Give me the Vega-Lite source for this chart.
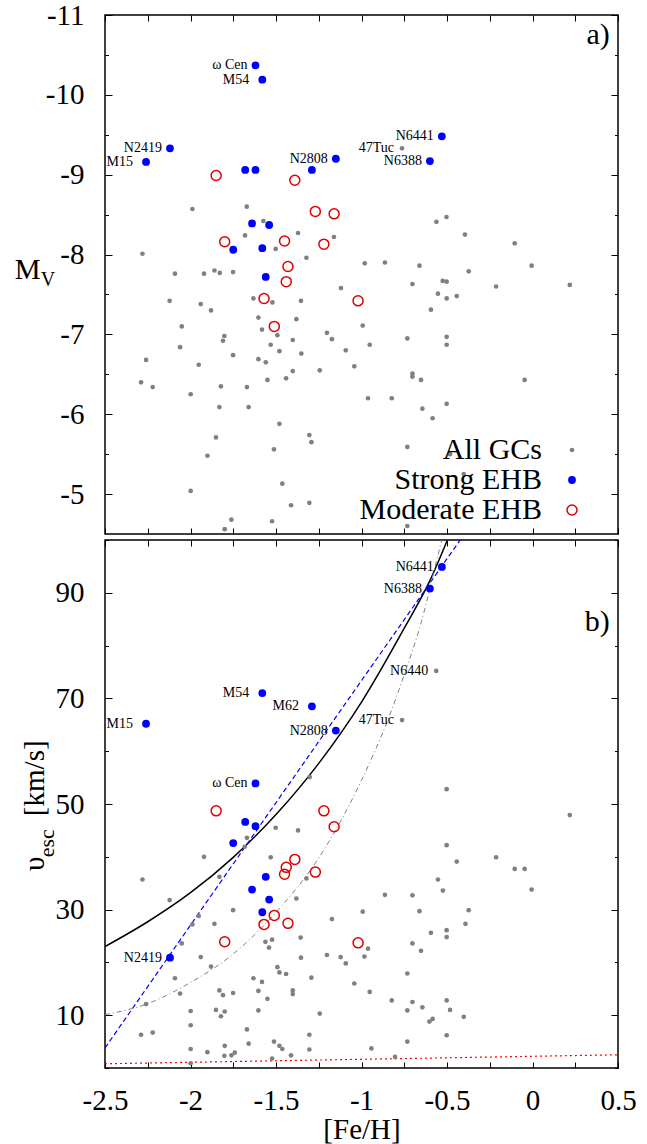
{
"$schema": "https://vega.github.io/schema/vega-lite/v6.json",
"background": "white",
"padding": {"left": 13, "top": 0, "right": 5, "bottom": 0},
"spacing": 6,
"bounds": "flush",
"resolve": {"legend": {"fill": "independent", "stroke": "independent", "size": "independent"}},
"config": {
  "font": "Liberation Serif",
  "view": {"stroke": "black", "strokeWidth": 1.5},
  "axis": {"domain": false, "grid": false, "tickColor": "black", "tickWidth": 1, "labelFont": "Liberation Serif", "labelFontSize": 29, "labelColor": "black", "titleFont": "Liberation Serif", "titleFontSize": 29, "titleFontWeight": "normal", "titleColor": "black"},
  "legend": {"labelFont": "Liberation Serif"},
  "text": {"font": "Liberation Serif", "color": "black"}
},
"datasets": {
  "a": [
    {"g": "All GCs", "feh": -1.989, "mv": -8.57}, {"g": "All GCs", "feh": -1.671, "mv": -8.60}, {"g": "All GCs", "feh": -1.574, "mv": -8.42}, {"g": "All GCs", "feh": -1.681, "mv": -8.24}, {"g": "All GCs", "feh": -1.371, "mv": -8.27}, {"g": "All GCs", "feh": -1.161, "mv": -8.22}, {"g": "All GCs", "feh": -1.502, "mv": -8.07}, {"g": "All GCs", "feh": -2.281, "mv": -8.01}, {"g": "All GCs", "feh": -1.322, "mv": -7.96}, {"g": "All GCs", "feh": -2.091, "mv": -7.76}, {"g": "All GCs", "feh": -1.921, "mv": -7.76}, {"g": "All GCs", "feh": -1.860, "mv": -7.80}, {"g": "All GCs", "feh": -1.829, "mv": -7.77}, {"g": "All GCs", "feh": -1.751, "mv": -7.78}, {"g": "All GCs", "feh": -1.120, "mv": -7.58}, {"g": "All GCs", "feh": -2.122, "mv": -7.42}, {"g": "All GCs", "feh": -1.940, "mv": -7.38}, {"g": "All GCs", "feh": -1.880, "mv": -7.30}, {"g": "All GCs", "feh": -1.632, "mv": -7.45}, {"g": "All GCs", "feh": -1.521, "mv": -7.40}, {"g": "All GCs", "feh": -1.354, "mv": -7.42}, {"g": "All GCs", "feh": -2.051, "mv": -7.10}, {"g": "All GCs", "feh": -1.603, "mv": -7.21}, {"g": "All GCs", "feh": -1.582, "mv": -7.06}, {"g": "All GCs", "feh": -1.381, "mv": -7.19}, {"g": "All GCs", "feh": -1.802, "mv": -6.98}, {"g": "All GCs", "feh": -1.810, "mv": -6.92}, {"g": "All GCs", "feh": -1.492, "mv": -6.99}, {"g": "All GCs", "feh": -1.202, "mv": -7.02}, {"g": "All GCs", "feh": -1.173, "mv": -6.94}, {"g": "All GCs", "feh": -2.061, "mv": -6.84}, {"g": "All GCs", "feh": -1.531, "mv": -6.87}, {"g": "All GCs", "feh": -1.402, "mv": -6.93}, {"g": "All GCs", "feh": -1.480, "mv": -6.79}, {"g": "All GCs", "feh": -1.352, "mv": -6.76}, {"g": "All GCs", "feh": -1.092, "mv": -6.80}, {"g": "All GCs", "feh": -2.260, "mv": -6.68}, {"g": "All GCs", "feh": -1.751, "mv": -6.74}, {"g": "All GCs", "feh": -1.952, "mv": -6.62}, {"g": "All GCs", "feh": -1.603, "mv": -6.69}, {"g": "All GCs", "feh": -1.560, "mv": -6.65}, {"g": "All GCs", "feh": -1.402, "mv": -6.54}, {"g": "All GCs", "feh": -1.244, "mv": -6.55}, {"g": "All GCs", "feh": -1.042, "mv": -6.60}, {"g": "All GCs", "feh": -1.550, "mv": -6.43}, {"g": "All GCs", "feh": -1.441, "mv": -6.45}, {"g": "All GCs", "feh": -2.289, "mv": -6.40}, {"g": "All GCs", "feh": -2.221, "mv": -6.34}, {"g": "All GCs", "feh": -1.822, "mv": -6.35}, {"g": "All GCs", "feh": -1.670, "mv": -6.34}, {"g": "All GCs", "feh": -1.999, "mv": -6.25}, {"g": "All GCs", "feh": -1.831, "mv": -6.09}, {"g": "All GCs", "feh": -1.660, "mv": -6.09}, {"g": "All GCs", "feh": -1.480, "mv": -5.88}, {"g": "All GCs", "feh": -1.305, "mv": -5.74}, {"g": "All GCs", "feh": -1.293, "mv": -5.65}, {"g": "All GCs", "feh": -1.851, "mv": -5.71}, {"g": "All GCs", "feh": -1.512, "mv": -5.56}, {"g": "All GCs", "feh": -1.901, "mv": -5.48}, {"g": "All GCs", "feh": -1.999, "mv": -5.04}, {"g": "All GCs", "feh": -1.463, "mv": -5.13}, {"g": "All GCs", "feh": -1.412, "mv": -4.86}, {"g": "All GCs", "feh": -1.305, "mv": -4.89}, {"g": "All GCs", "feh": -1.761, "mv": -4.68}, {"g": "All GCs", "feh": -1.523, "mv": -4.66}, {"g": "All GCs", "feh": -1.800, "mv": -4.56},
    {"g": "All GCs", "feh": -0.763, "mv": -9.33, "label": "47Tuc"}, {"g": "All GCs", "feh": -0.503, "mv": -8.47}, {"g": "All GCs", "feh": -0.562, "mv": -8.41}, {"g": "All GCs", "feh": -0.395, "mv": -8.25}, {"g": "All GCs", "feh": -0.104, "mv": -8.14}, {"g": "All GCs", "feh": -0.981, "mv": -7.89}, {"g": "All GCs", "feh": -0.863, "mv": -7.90}, {"g": "All GCs", "feh": -0.661, "mv": -7.86}, {"g": "All GCs", "feh": -0.005, "mv": -7.86}, {"g": "All GCs", "feh": -0.373, "mv": -7.79}, {"g": "All GCs", "feh": -0.702, "mv": -7.63}, {"g": "All GCs", "feh": -0.525, "mv": -7.67}, {"g": "All GCs", "feh": -0.502, "mv": -7.66}, {"g": "All GCs", "feh": -0.213, "mv": -7.60}, {"g": "All GCs", "feh": 0.218, "mv": -7.62}, {"g": "All GCs", "feh": -0.553, "mv": -7.51}, {"g": "All GCs", "feh": -0.502, "mv": -7.45}, {"g": "All GCs", "feh": -0.443, "mv": -7.48}, {"g": "All GCs", "feh": -0.594, "mv": -7.31}, {"g": "All GCs", "feh": -0.993, "mv": -7.11}, {"g": "All GCs", "feh": -0.732, "mv": -6.95}, {"g": "All GCs", "feh": -0.502, "mv": -6.97}, {"g": "All GCs", "feh": -0.502, "mv": -6.87}, {"g": "All GCs", "feh": -0.952, "mv": -6.87}, {"g": "All GCs", "feh": -0.702, "mv": -6.51}, {"g": "All GCs", "feh": -0.702, "mv": -6.47}, {"g": "All GCs", "feh": -0.652, "mv": -6.43}, {"g": "All GCs", "feh": -0.046, "mv": -6.43}, {"g": "All GCs", "feh": -0.962, "mv": -6.20}, {"g": "All GCs", "feh": -0.823, "mv": -6.20}, {"g": "All GCs", "feh": -0.644, "mv": -6.07}, {"g": "All GCs", "feh": -0.502, "mv": -6.13}, {"g": "All GCs", "feh": -0.584, "mv": -5.95}, {"g": "All GCs", "feh": -0.732, "mv": -5.59}, {"g": "All GCs", "feh": -0.482, "mv": -5.50}, {"g": "All GCs", "feh": -0.402, "mv": -5.25}, {"g": "All GCs", "feh": -0.732, "mv": -4.60},
    {"g": "Strong EHB", "feh": -1.62, "mv": -10.37, "label": "ω Cen"}, {"g": "Strong EHB", "feh": -1.58, "mv": -10.19, "label": "M54"}, {"g": "Strong EHB", "feh": -2.12, "mv": -9.33, "label": "N2419"}, {"g": "Strong EHB", "feh": -2.26, "mv": -9.16, "label": "M15"}, {"g": "Strong EHB", "feh": -1.68, "mv": -9.06}, {"g": "Strong EHB", "feh": -1.62, "mv": -9.06}, {"g": "Strong EHB", "feh": -1.29, "mv": -9.06}, {"g": "Strong EHB", "feh": -1.15, "mv": -9.20, "label": "N2808"}, {"g": "Strong EHB", "feh": -1.64, "mv": -8.39}, {"g": "Strong EHB", "feh": -1.54, "mv": -8.37}, {"g": "Strong EHB", "feh": -1.75, "mv": -8.06}, {"g": "Strong EHB", "feh": -1.58, "mv": -8.08}, {"g": "Strong EHB", "feh": -1.56, "mv": -7.72}, {"g": "Strong EHB", "feh": -0.53, "mv": -9.48, "label": "N6441"}, {"g": "Strong EHB", "feh": -0.60, "mv": -9.17, "label": "N6388"},
    {"g": "Moderate EHB", "feh": -1.85, "mv": -8.99}, {"g": "Moderate EHB", "feh": -1.39, "mv": -8.93}, {"g": "Moderate EHB", "feh": -1.27, "mv": -8.54}, {"g": "Moderate EHB", "feh": -1.16, "mv": -8.51}, {"g": "Moderate EHB", "feh": -1.80, "mv": -8.16}, {"g": "Moderate EHB", "feh": -1.45, "mv": -8.17}, {"g": "Moderate EHB", "feh": -1.22, "mv": -8.13}, {"g": "Moderate EHB", "feh": -1.43, "mv": -7.85}, {"g": "Moderate EHB", "feh": -1.44, "mv": -7.66}, {"g": "Moderate EHB", "feh": -1.57, "mv": -7.45}, {"g": "Moderate EHB", "feh": -1.51, "mv": -7.10}, {"g": "Moderate EHB", "feh": -1.02, "mv": -7.42}
  ],
  "b": [
    {"g": "All GCs", "feh": -1.303, "v": 55.1}, {"g": "All GCs", "feh": -0.563, "v": 75.2, "label": "N6440"}, {"g": "All GCs", "feh": -0.763, "v": 65.9, "label": "47Tuc"}, {"g": "All GCs", "feh": -0.502, "v": 52.8},
    {"g": "All GCs", "feh": -1.502, "v": 45.5}, {"g": "All GCs", "feh": -1.371, "v": 45.0}, {"g": "All GCs", "feh": -1.670, "v": 43.6}, {"g": "All GCs", "feh": -1.683, "v": 41.9}, {"g": "All GCs", "feh": -1.921, "v": 40.0}, {"g": "All GCs", "feh": -1.531, "v": 39.9}, {"g": "All GCs", "feh": -2.281, "v": 35.7}, {"g": "All GCs", "feh": -1.831, "v": 36.2}, {"g": "All GCs", "feh": -1.322, "v": 35.9}, {"g": "All GCs", "feh": -2.122, "v": 31.8}, {"g": "All GCs", "feh": -1.381, "v": 32.1}, {"g": "All GCs", "feh": -1.751, "v": 29.9}, {"g": "All GCs", "feh": -1.952, "v": 28.8}, {"g": "All GCs", "feh": -1.989, "v": 27.2}, {"g": "All GCs", "feh": -1.860, "v": 27.3}, {"g": "All GCs", "feh": -1.173, "v": 28.2}, {"g": "All GCs", "feh": -2.051, "v": 23.6}, {"g": "All GCs", "feh": -1.356, "v": 24.7}, {"g": "All GCs", "feh": -1.562, "v": 23.9}, {"g": "All GCs", "feh": -1.523, "v": 24.3}, {"g": "All GCs", "feh": -1.541, "v": 22.8}, {"g": "All GCs", "feh": -1.940, "v": 21.0}, {"g": "All GCs", "feh": -1.354, "v": 20.9}, {"g": "All GCs", "feh": -1.202, "v": 21.4}, {"g": "All GCs", "feh": -1.122, "v": 21.0}, {"g": "All GCs", "feh": -1.092, "v": 19.8}, {"g": "All GCs", "feh": -1.880, "v": 19.2}, {"g": "All GCs", "feh": -1.492, "v": 19.1}, {"g": "All GCs", "feh": -1.480, "v": 18.1}, {"g": "All GCs", "feh": -1.441, "v": 17.8}, {"g": "All GCs", "feh": -2.091, "v": 17.0}, {"g": "All GCs", "feh": -1.632, "v": 17.0}, {"g": "All GCs", "feh": -1.582, "v": 16.3}, {"g": "All GCs", "feh": -1.293, "v": 17.1}, {"g": "All GCs", "feh": -1.042, "v": 16.0}, {"g": "All GCs", "feh": -2.061, "v": 14.1}, {"g": "All GCs", "feh": -1.831, "v": 14.7}, {"g": "All GCs", "feh": -1.810, "v": 13.8}, {"g": "All GCs", "feh": -1.751, "v": 14.2}, {"g": "All GCs", "feh": -1.603, "v": 14.6}, {"g": "All GCs", "feh": -1.550, "v": 13.1}, {"g": "All GCs", "feh": -1.402, "v": 14.7}, {"g": "All GCs", "feh": -1.402, "v": 14.0}, {"g": "All GCs", "feh": -2.260, "v": 12.1}, {"g": "All GCs", "feh": -1.851, "v": 11.0}, {"g": "All GCs", "feh": -1.800, "v": 10.7}, {"g": "All GCs", "feh": -1.822, "v": 9.8}, {"g": "All GCs", "feh": -1.999, "v": 10.8}, {"g": "All GCs", "feh": -1.603, "v": 10.9}, {"g": "All GCs", "feh": -1.244, "v": 10.3}, {"g": "All GCs", "feh": -1.999, "v": 8.1}, {"g": "All GCs", "feh": -1.670, "v": 7.3}, {"g": "All GCs", "feh": -2.289, "v": 6.3}, {"g": "All GCs", "feh": -2.221, "v": 6.7}, {"g": "All GCs", "feh": -1.305, "v": 6.3}, {"g": "All GCs", "feh": -1.660, "v": 4.6}, {"g": "All GCs", "feh": -1.512, "v": 5.0}, {"g": "All GCs", "feh": -1.480, "v": 4.2}, {"g": "All GCs", "feh": -1.463, "v": 3.6}, {"g": "All GCs", "feh": -1.999, "v": 3.6}, {"g": "All GCs", "feh": -1.901, "v": 3.0}, {"g": "All GCs", "feh": -1.800, "v": 4.2}, {"g": "All GCs", "feh": -1.802, "v": 2.3}, {"g": "All GCs", "feh": -1.761, "v": 2.4}, {"g": "All GCs", "feh": -1.741, "v": 2.9}, {"g": "All GCs", "feh": -1.412, "v": 2.4}, {"g": "All GCs", "feh": -1.305, "v": 3.5}, {"g": "All GCs", "feh": -1.523, "v": 1.8}, {"g": "All GCs", "feh": -1.999, "v": 0.9},
    {"g": "All GCs", "feh": 0.218, "v": 47.9}, {"g": "All GCs", "feh": -0.502, "v": 42.2}, {"g": "All GCs", "feh": -0.443, "v": 39.1}, {"g": "All GCs", "feh": -0.213, "v": 39.9}, {"g": "All GCs", "feh": -0.104, "v": 37.7}, {"g": "All GCs", "feh": -0.046, "v": 37.7}, {"g": "All GCs", "feh": -0.553, "v": 35.7}, {"g": "All GCs", "feh": -0.524, "v": 33.6}, {"g": "All GCs", "feh": -0.005, "v": 33.8}, {"g": "All GCs", "feh": -0.863, "v": 32.8}, {"g": "All GCs", "feh": -0.702, "v": 32.7}, {"g": "All GCs", "feh": -0.993, "v": 29.6}, {"g": "All GCs", "feh": -0.661, "v": 29.7}, {"g": "All GCs", "feh": -0.373, "v": 29.9}, {"g": "All GCs", "feh": -0.392, "v": 27.3}, {"g": "All GCs", "feh": -0.594, "v": 25.6}, {"g": "All GCs", "feh": -0.502, "v": 26.1}, {"g": "All GCs", "feh": -0.502, "v": 24.8}, {"g": "All GCs", "feh": -0.962, "v": 22.6}, {"g": "All GCs", "feh": -0.702, "v": 23.6}, {"g": "All GCs", "feh": -0.652, "v": 22.2}, {"g": "All GCs", "feh": -0.983, "v": 21.1}, {"g": "All GCs", "feh": -0.732, "v": 17.9}, {"g": "All GCs", "feh": -0.952, "v": 14.4}, {"g": "All GCs", "feh": -0.823, "v": 12.8}, {"g": "All GCs", "feh": -0.702, "v": 12.5}, {"g": "All GCs", "feh": -0.732, "v": 10.9}, {"g": "All GCs", "feh": -0.644, "v": 11.5}, {"g": "All GCs", "feh": -0.502, "v": 12.8}, {"g": "All GCs", "feh": -0.482, "v": 11.0}, {"g": "All GCs", "feh": -0.402, "v": 9.7}, {"g": "All GCs", "feh": -0.603, "v": 8.8}, {"g": "All GCs", "feh": -0.584, "v": 9.3}, {"g": "All GCs", "feh": -0.502, "v": 6.2}, {"g": "All GCs", "feh": -0.732, "v": 5.0}, {"g": "All GCs", "feh": -0.942, "v": 3.7}, {"g": "All GCs", "feh": -0.804, "v": 2.1},
    {"g": "Strong EHB", "feh": -1.58, "v": 71.0, "label": "M54"}, {"g": "Strong EHB", "feh": -1.29, "v": 68.5, "label": "M62"}, {"g": "Strong EHB", "feh": -2.26, "v": 65.2, "label": "M15"}, {"g": "Strong EHB", "feh": -1.15, "v": 63.9, "label": "N2808"}, {"g": "Strong EHB", "feh": -1.62, "v": 53.9, "label": "ω Cen"}, {"g": "Strong EHB", "feh": -0.53, "v": 94.9, "label": "N6441"}, {"g": "Strong EHB", "feh": -0.60, "v": 90.8, "label": "N6388"}, {"g": "Strong EHB", "feh": -2.12, "v": 20.9, "label": "N2419"}, {"g": "Strong EHB", "feh": -1.68, "v": 46.6}, {"g": "Strong EHB", "feh": -1.62, "v": 45.8}, {"g": "Strong EHB", "feh": -1.75, "v": 42.6}, {"g": "Strong EHB", "feh": -1.56, "v": 36.2}, {"g": "Strong EHB", "feh": -1.64, "v": 33.8}, {"g": "Strong EHB", "feh": -1.54, "v": 31.9}, {"g": "Strong EHB", "feh": -1.58, "v": 29.5},
    {"g": "Moderate EHB", "feh": -1.85, "v": 48.7}, {"g": "Moderate EHB", "feh": -1.22, "v": 48.7}, {"g": "Moderate EHB", "feh": -1.16, "v": 45.7}, {"g": "Moderate EHB", "feh": -1.39, "v": 39.5}, {"g": "Moderate EHB", "feh": -1.44, "v": 38.0}, {"g": "Moderate EHB", "feh": -1.45, "v": 36.7}, {"g": "Moderate EHB", "feh": -1.27, "v": 37.1}, {"g": "Moderate EHB", "feh": -1.51, "v": 28.9}, {"g": "Moderate EHB", "feh": -1.57, "v": 27.2}, {"g": "Moderate EHB", "feh": -1.43, "v": 27.4}, {"g": "Moderate EHB", "feh": -1.80, "v": 23.9}, {"g": "Moderate EHB", "feh": -1.02, "v": 23.7}
  ],
  "curves": [
    {"curve": "solid", "feh": -2.5, "v": 23.0}, {"curve": "solid", "feh": -2.25, "v": 27.7}, {"curve": "solid", "feh": -2.0, "v": 33.2}, {"curve": "solid", "feh": -1.75, "v": 39.9}, {"curve": "solid", "feh": -1.5, "v": 48.0}, {"curve": "solid", "feh": -1.25, "v": 57.7}, {"curve": "solid", "feh": -1.0, "v": 69.3}, {"curve": "solid", "feh": -0.75, "v": 83.3}, {"curve": "solid", "feh": -0.6, "v": 92.3}, {"curve": "solid", "feh": -0.5, "v": 99.8},
    {"curve": "dashed", "feh": -2.5, "v": 3.8}, {"curve": "dashed", "feh": -1.525, "v": 49.1}, {"curve": "dashed", "feh": -0.423, "v": 100.0},
    {"curve": "dashdot", "feh": -2.5, "v": 10.1}, {"curve": "dashdot", "feh": -2.25, "v": 12.2}, {"curve": "dashdot", "feh": -2.0, "v": 16.2}, {"curve": "dashdot", "feh": -1.75, "v": 21.6}, {"curve": "dashdot", "feh": -1.5, "v": 29.5}, {"curve": "dashdot", "feh": -1.25, "v": 39.8}, {"curve": "dashdot", "feh": -1.0, "v": 54.5}, {"curve": "dashdot", "feh": -0.85, "v": 65.6}, {"curve": "dashdot", "feh": -0.75, "v": 74.5}, {"curve": "dashdot", "feh": -0.65, "v": 84.5}, {"curve": "dashdot", "feh": -0.55, "v": 97.5}, {"curve": "dashdot", "feh": -0.53, "v": 100.0},
    {"curve": "dotted", "feh": -2.5, "v": 0.8}, {"curve": "dotted", "feh": 0.5, "v": 2.5}
  ]
},
"vconcat": [
  {
    "width": 513, "height": 519,
    "resolve": {"axis": {"x": "independent", "y": "independent"}},
    "layer": [
      {
        "data": {"name": "a"},
        "mark": {"type": "point", "shape": "circle", "strokeWidth": 1.5, "opacity": 1},
        "encoding": {
          "x": {"field": "feh", "type": "quantitative", "scale": {"domain": [-2.5, 0.5], "nice": false, "zero": false}, "axis": {"orient": "bottom", "values": [-2.5, -2.25, -2, -1.75, -1.5, -1.25, -1, -0.75, -0.5, -0.25, 0, 0.25, 0.5], "tickSize": -6, "labels": false, "title": null}},
          "y": {"field": "mv", "type": "quantitative", "scale": {"domain": [-11, -4.5], "nice": false, "zero": false, "reverse": true}, "axis": {"orient": "left", "values": [-11, -10, -9, -8, -7, -6, -5], "tickSize": -7, "labelPadding": 28, "labelFont": "Liberation Serif", "labelExpr": "'' + datum.value", "labelOverlap": false, "title": null}},
          "fill": {"field": "g", "type": "nominal", "scale": {"domain": ["All GCs", "Strong EHB", "Moderate EHB"], "range": ["#808080", "#0000ff", "transparent"]}, "legend": {"orient": "none", "legendX": 452, "legendY": 420, "title": null, "labelAlign": "right", "labelOffset": -45, "labelFontSize": 30, "labelFont": "Liberation Serif", "labelColor": "black", "labelLimit": 400, "rowPadding": 0, "padding": 0, "symbolStrokeWidth": 1.5, "symbolType": "circle"}},
          "stroke": {"field": "g", "type": "nominal", "scale": {"domain": ["All GCs", "Strong EHB", "Moderate EHB"], "range": ["transparent", "transparent", "#dd0000"]}, "legend": {"orient": "none", "legendX": 452, "legendY": 420, "title": null, "labelAlign": "right", "labelOffset": -45, "labelFontSize": 30, "labelFont": "Liberation Serif", "labelColor": "black", "labelLimit": 400, "rowPadding": 0, "padding": 0, "symbolStrokeWidth": 1.5, "symbolType": "circle"}},
          "size": {"field": "g", "type": "nominal", "scale": {"domain": ["All GCs", "Strong EHB", "Moderate EHB"], "range": [22, 100, 62]}, "legend": {"orient": "none", "legendX": 452, "legendY": 420, "title": null, "labelAlign": "right", "labelOffset": -45, "labelFontSize": 30, "labelFont": "Liberation Serif", "labelColor": "black", "labelLimit": 400, "rowPadding": 0, "padding": 0, "symbolStrokeWidth": 1.5, "symbolType": "circle"}}
        }
      },
      {
        "data": {"name": "a"},
        "transform": [{"filter": "isValid(datum.label) && substring(datum.label, 0, 1) != 'M'"}],
        "mark": {"type": "text", "align": "right", "baseline": "middle", "dx": -8, "fontSize": 14, "font": "Liberation Serif", "color": "black"},
        "encoding": {
          "x": {"field": "feh", "type": "quantitative", "scale": {"domain": [-2.5, 0.5], "nice": false, "zero": false}, "axis": null},
          "y": {"field": "mv", "type": "quantitative", "scale": {"domain": [-11, -4.5], "nice": false, "zero": false, "reverse": true}, "axis": null},
          "text": {"field": "label"}
        }
      },
      {
        "data": {"name": "a"},
        "transform": [{"filter": "isValid(datum.label) && substring(datum.label, 0, 1) == 'M'"}],
        "mark": {"type": "text", "align": "right", "baseline": "middle", "dx": -13, "fontSize": 14, "font": "Liberation Serif", "color": "black"},
        "encoding": {
          "x": {"field": "feh", "type": "quantitative", "scale": {"domain": [-2.5, 0.5], "nice": false, "zero": false}, "axis": null},
          "y": {"field": "mv", "type": "quantitative", "scale": {"domain": [-11, -4.5], "nice": false, "zero": false, "reverse": true}, "axis": null},
          "text": {"field": "label"}
        }
      },
      {
        "data": {"values": [{}]},
        "mark": {"type": "point", "opacity": 0},
        "encoding": {
          "x": {"datum": -2.5, "type": "quantitative", "scale": {"domain": [-2.5, 0.5], "nice": false, "zero": false}, "axis": {"orient": "top", "values": [-2.5, -2.25, -2, -1.75, -1.5, -1.25, -1, -0.75, -0.5, -0.25, 0, 0.25, 0.5], "tickSize": -6, "labels": false, "title": null}},
          "y": {"datum": -11, "type": "quantitative", "scale": {"domain": [-11, -4.5], "nice": false, "zero": false, "reverse": true}, "axis": {"orient": "right", "values": [-11, -10, -9, -8, -7, -6, -5], "tickSize": -7, "labels": false, "title": null}}
        }
      },
      {
        "data": {"values": [{}]},
        "mark": {"type": "point", "opacity": 0},
        "encoding": {
          "x": {"datum": -2.5, "type": "quantitative", "scale": {"domain": [-2.5, 0.5], "nice": false, "zero": false}, "axis": null},
          "y": {"datum": -11, "type": "quantitative", "scale": {"domain": [-11, -4.5], "nice": false, "zero": false, "reverse": true}, "axis": {"orient": "left", "values": [-10.5, -9.5, -8.5, -7.5, -6.5, -5.5], "tickSize": -3.5, "labels": false, "title": null}}
        }
      },
      {
        "data": {"values": [{}]},
        "mark": {"type": "point", "opacity": 0},
        "encoding": {
          "x": {"datum": -2.5, "type": "quantitative", "scale": {"domain": [-2.5, 0.5], "nice": false, "zero": false}, "axis": null},
          "y": {"datum": -11, "type": "quantitative", "scale": {"domain": [-11, -4.5], "nice": false, "zero": false, "reverse": true}, "axis": {"orient": "right", "values": [-10.5, -9.5, -8.5, -7.5, -6.5, -5.5], "tickSize": -3.5, "labels": false, "title": null}}
        }
      },
      {
        "data": {"values": [{}]},
        "mark": {"type": "text", "text": "M", "align": "left", "baseline": "alphabetic", "fontSize": 29, "font": "Liberation Serif", "color": "black", "clip": false},
        "encoding": {
          "x": {"datum": -3.028, "type": "quantitative", "scale": {"domain": [-2.5, 0.5], "nice": false, "zero": false}, "axis": null},
          "y": {"datum": -7.688, "type": "quantitative", "scale": {"domain": [-11, -4.5], "nice": false, "zero": false, "reverse": true}, "axis": null}
        }
      },
      {
        "data": {"values": [{}]},
        "mark": {"type": "text", "text": "V", "align": "left", "baseline": "alphabetic", "fontSize": 20, "font": "Liberation Serif", "color": "black", "clip": false},
        "encoding": {
          "x": {"datum": -2.876, "type": "quantitative", "scale": {"domain": [-2.5, 0.5], "nice": false, "zero": false}, "axis": null},
          "y": {"datum": -7.60, "type": "quantitative", "scale": {"domain": [-11, -4.5], "nice": false, "zero": false, "reverse": true}, "axis": null}
        }
      },
      {
        "data": {"values": [{}]},
        "mark": {"type": "text", "text": "a)", "align": "right", "baseline": "alphabetic", "fontSize": 30, "font": "Liberation Serif", "color": "black"},
        "encoding": {
          "x": {"datum": 0.452, "type": "quantitative", "scale": {"domain": [-2.5, 0.5], "nice": false, "zero": false}, "axis": null},
          "y": {"datum": -10.642, "type": "quantitative", "scale": {"domain": [-11, -4.5], "nice": false, "zero": false, "reverse": true}, "axis": null}
        }
      }
    ]
  },
  {
    "width": 513, "height": 528,
    "resolve": {"axis": {"x": "independent", "y": "independent"}},
    "layer": [
      {
        "data": {"name": "curves"},
        "transform": [{"filter": "datum.curve == 'solid'"}],
        "mark": {"type": "line", "color": "black", "strokeWidth": 1.5, "interpolate": "monotone", "clip": true},
        "encoding": {
          "x": {"field": "feh", "type": "quantitative", "scale": {"domain": [-2.5, 0.5], "nice": false, "zero": false}, "axis": null},
          "y": {"field": "v", "type": "quantitative", "scale": {"domain": [0, 100], "nice": false, "zero": false}, "axis": null}
        }
      },
      {
        "data": {"name": "curves"},
        "transform": [{"filter": "datum.curve == 'dashed'"}],
        "mark": {"type": "line", "color": "#0000ff", "strokeWidth": 1.2, "strokeDash": [5, 3], "interpolate": "monotone", "clip": true},
        "encoding": {
          "x": {"field": "feh", "type": "quantitative", "scale": {"domain": [-2.5, 0.5], "nice": false, "zero": false}, "axis": null},
          "y": {"field": "v", "type": "quantitative", "scale": {"domain": [0, 100], "nice": false, "zero": false}, "axis": null}
        }
      },
      {
        "data": {"name": "curves"},
        "transform": [{"filter": "datum.curve == 'dashdot'"}],
        "mark": {"type": "line", "color": "#808080", "strokeWidth": 1, "strokeDash": [5, 3, 1, 3], "interpolate": "monotone", "clip": true},
        "encoding": {
          "x": {"field": "feh", "type": "quantitative", "scale": {"domain": [-2.5, 0.5], "nice": false, "zero": false}, "axis": null},
          "y": {"field": "v", "type": "quantitative", "scale": {"domain": [0, 100], "nice": false, "zero": false}, "axis": null}
        }
      },
      {
        "data": {"name": "curves"},
        "transform": [{"filter": "datum.curve == 'dotted'"}],
        "mark": {"type": "line", "color": "#ff0000", "strokeWidth": 1.2, "strokeDash": [2, 3], "clip": true},
        "encoding": {
          "x": {"field": "feh", "type": "quantitative", "scale": {"domain": [-2.5, 0.5], "nice": false, "zero": false}, "axis": null},
          "y": {"field": "v", "type": "quantitative", "scale": {"domain": [0, 100], "nice": false, "zero": false}, "axis": null}
        }
      },
      {
        "data": {"name": "b"},
        "mark": {"type": "point", "shape": "circle", "strokeWidth": 1.5, "opacity": 1},
        "encoding": {
          "x": {"field": "feh", "type": "quantitative", "scale": {"domain": [-2.5, 0.5], "nice": false, "zero": false}, "axis": {"orient": "bottom", "values": [-2.5, -2.25, -2, -1.75, -1.5, -1.25, -1, -0.75, -0.5, -0.25, 0, 0.25, 0.5], "tickSize": -6, "labelPadding": 24, "labelFont": "Liberation Serif", "titleFont": "Liberation Serif", "labelExpr": "round(datum.value * 2) == datum.value * 2 ? '' + datum.value : ''", "labelFlush": false, "labelOverlap": false, "title": "[Fe/H]", "titlePadding": 0}},
          "y": {"field": "v", "type": "quantitative", "scale": {"domain": [0, 100], "nice": false, "zero": false}, "axis": {"orient": "left", "values": [10, 30, 50, 70, 90], "tickSize": -7, "labelPadding": 28, "labelFont": "Liberation Serif", "labelExpr": "'' + datum.value", "labelOverlap": false, "title": null}},
          "fill": {"field": "g", "type": "nominal", "scale": {"domain": ["All GCs", "Strong EHB", "Moderate EHB"], "range": ["#808080", "#0000ff", "transparent"]}, "legend": null},
          "stroke": {"field": "g", "type": "nominal", "scale": {"domain": ["All GCs", "Strong EHB", "Moderate EHB"], "range": ["transparent", "transparent", "#dd0000"]}, "legend": null},
          "size": {"field": "g", "type": "nominal", "scale": {"domain": ["All GCs", "Strong EHB", "Moderate EHB"], "range": [22, 100, 62]}, "legend": null}
        }
      },
      {
        "data": {"name": "b"},
        "transform": [{"filter": "isValid(datum.label) && substring(datum.label, 0, 1) != 'M'"}],
        "mark": {"type": "text", "align": "right", "baseline": "middle", "dx": -8, "fontSize": 14, "font": "Liberation Serif", "color": "black"},
        "encoding": {
          "x": {"field": "feh", "type": "quantitative", "scale": {"domain": [-2.5, 0.5], "nice": false, "zero": false}, "axis": null},
          "y": {"field": "v", "type": "quantitative", "scale": {"domain": [0, 100], "nice": false, "zero": false}, "axis": null},
          "text": {"field": "label"}
        }
      },
      {
        "data": {"name": "b"},
        "transform": [{"filter": "isValid(datum.label) && substring(datum.label, 0, 1) == 'M'"}],
        "mark": {"type": "text", "align": "right", "baseline": "middle", "dx": -13, "fontSize": 14, "font": "Liberation Serif", "color": "black"},
        "encoding": {
          "x": {"field": "feh", "type": "quantitative", "scale": {"domain": [-2.5, 0.5], "nice": false, "zero": false}, "axis": null},
          "y": {"field": "v", "type": "quantitative", "scale": {"domain": [0, 100], "nice": false, "zero": false}, "axis": null},
          "text": {"field": "label"}
        }
      },
      {
        "data": {"values": [{}]},
        "mark": {"type": "point", "opacity": 0},
        "encoding": {
          "x": {"datum": -2.5, "type": "quantitative", "scale": {"domain": [-2.5, 0.5], "nice": false, "zero": false}, "axis": {"orient": "top", "values": [-2.5, -2.25, -2, -1.75, -1.5, -1.25, -1, -0.75, -0.5, -0.25, 0, 0.25, 0.5], "tickSize": -6, "labels": false, "title": null}},
          "y": {"datum": 0, "type": "quantitative", "scale": {"domain": [0, 100], "nice": false, "zero": false}, "axis": {"orient": "right", "values": [10, 30, 50, 70, 90], "tickSize": -7, "labels": false, "title": null}}
        }
      },
      {
        "data": {"values": [{}]},
        "mark": {"type": "point", "opacity": 0},
        "encoding": {
          "x": {"datum": -2.5, "type": "quantitative", "scale": {"domain": [-2.5, 0.5], "nice": false, "zero": false}, "axis": null},
          "y": {"datum": 0, "type": "quantitative", "scale": {"domain": [0, 100], "nice": false, "zero": false}, "axis": {"orient": "left", "values": [0, 20, 40, 60, 80, 100], "tickSize": -3.5, "labels": false, "title": null}}
        }
      },
      {
        "data": {"values": [{}]},
        "mark": {"type": "point", "opacity": 0},
        "encoding": {
          "x": {"datum": -2.5, "type": "quantitative", "scale": {"domain": [-2.5, 0.5], "nice": false, "zero": false}, "axis": null},
          "y": {"datum": 0, "type": "quantitative", "scale": {"domain": [0, 100], "nice": false, "zero": false}, "axis": {"orient": "right", "values": [0, 20, 40, 60, 80, 100], "tickSize": -3.5, "labels": false, "title": null}}
        }
      },
      {
        "data": {"values": [{}]},
        "mark": {"type": "text", "text": "υ", "angle": 270, "align": "left", "baseline": "alphabetic", "fontSize": 29, "font": "Liberation Serif", "color": "black", "clip": false},
        "encoding": {
          "x": {"datum": -2.858, "type": "quantitative", "scale": {"domain": [-2.5, 0.5], "nice": false, "zero": false}, "axis": null},
          "y": {"datum": 37.3, "type": "quantitative", "scale": {"domain": [0, 100], "nice": false, "zero": false}, "axis": null}
        }
      },
      {
        "data": {"values": [{}]},
        "mark": {"type": "text", "text": "esc", "angle": 270, "align": "left", "baseline": "alphabetic", "fontSize": 22, "font": "Liberation Serif", "color": "black", "clip": false},
        "encoding": {
          "x": {"datum": -2.800, "type": "quantitative", "scale": {"domain": [-2.5, 0.5], "nice": false, "zero": false}, "axis": null},
          "y": {"datum": 39.9, "type": "quantitative", "scale": {"domain": [0, 100], "nice": false, "zero": false}, "axis": null}
        }
      },
      {
        "data": {"values": [{}]},
        "mark": {"type": "text", "text": "[km/s]", "angle": 270, "align": "left", "baseline": "alphabetic", "fontSize": 29, "font": "Liberation Serif", "color": "black", "clip": false},
        "encoding": {
          "x": {"datum": -2.858, "type": "quantitative", "scale": {"domain": [-2.5, 0.5], "nice": false, "zero": false}, "axis": null},
          "y": {"datum": 47.7, "type": "quantitative", "scale": {"domain": [0, 100], "nice": false, "zero": false}, "axis": null}
        }
      },
      {
        "data": {"values": [{}]},
        "mark": {"type": "text", "text": "b)", "align": "right", "baseline": "alphabetic", "fontSize": 30, "font": "Liberation Serif", "color": "black"},
        "encoding": {
          "x": {"datum": 0.452, "type": "quantitative", "scale": {"domain": [-2.5, 0.5], "nice": false, "zero": false}, "axis": null},
          "y": {"datum": 82.7, "type": "quantitative", "scale": {"domain": [0, 100], "nice": false, "zero": false}, "axis": null}
        }
      }
    ]
  }
]
}
